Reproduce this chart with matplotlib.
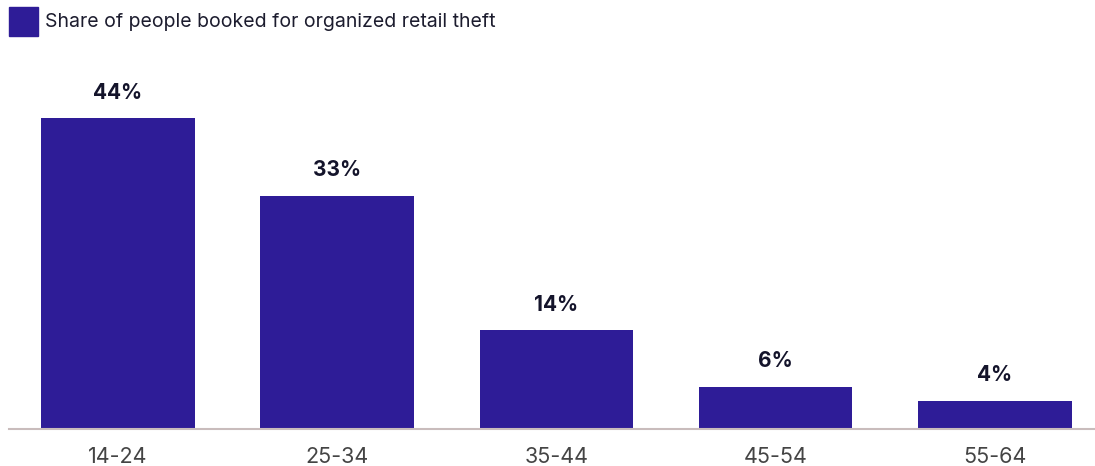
import matplotlib.pyplot as plt
from matplotlib.patches import Rectangle

plt.rcParams['font.family'] = ['Inter', 'DejaVu Sans']

age_groups = ["14-24", "25-34", "35-44", "45-54", "55-64"]
shares = [44, 33, 14, 6, 4]
series_name = "Share of people booked for organized retail theft"

bar_color = "#2e1c97"
W, H = 1095, 466

fig = plt.figure(figsize=(W / 100, H / 100), dpi=100)
ax = fig.add_axes([9 / W, (H - 429) / H, (W - 9) / W, (429 - 60) / H])

x = range(len(age_groups))
ax.bar(x, shares, width=0.70, color=bar_color, zorder=2)

for xi, v in zip(x, shares):
    ax.annotate(f"{v}%", (xi, v), xytext=(0, 11), textcoords="offset points",
                ha="center", va="bottom", fontsize=15, fontweight="bold",
                color="#14142b")

ax.set_xlim(-0.497, 4.456)
ax.set_ylim(0, (429 - 60) / 7.07)
ax.set_xticks(list(x))
ax.set_xticklabels(age_groups, fontsize=15.5, color="#444444")
ax.tick_params(axis="x", length=0, pad=13)
ax.set_yticks([])
for s in ["top", "right", "left"]:
    ax.spines[s].set_visible(False)
ax.spines["bottom"].set_color("#c9bcbc")
ax.spines["bottom"].set_linewidth(1.5)

# legend
fig.patches.append(Rectangle((9 / W, (H - 36) / H), 29 / W, 29 / H,
                             transform=fig.transFigure, color=bar_color))
fig.text(45 / W, (H - 22) / H, series_name, fontsize=14, color="#1c1c2e",
         va="center", ha="left")

fig.savefig("out.png", dpi=100)
